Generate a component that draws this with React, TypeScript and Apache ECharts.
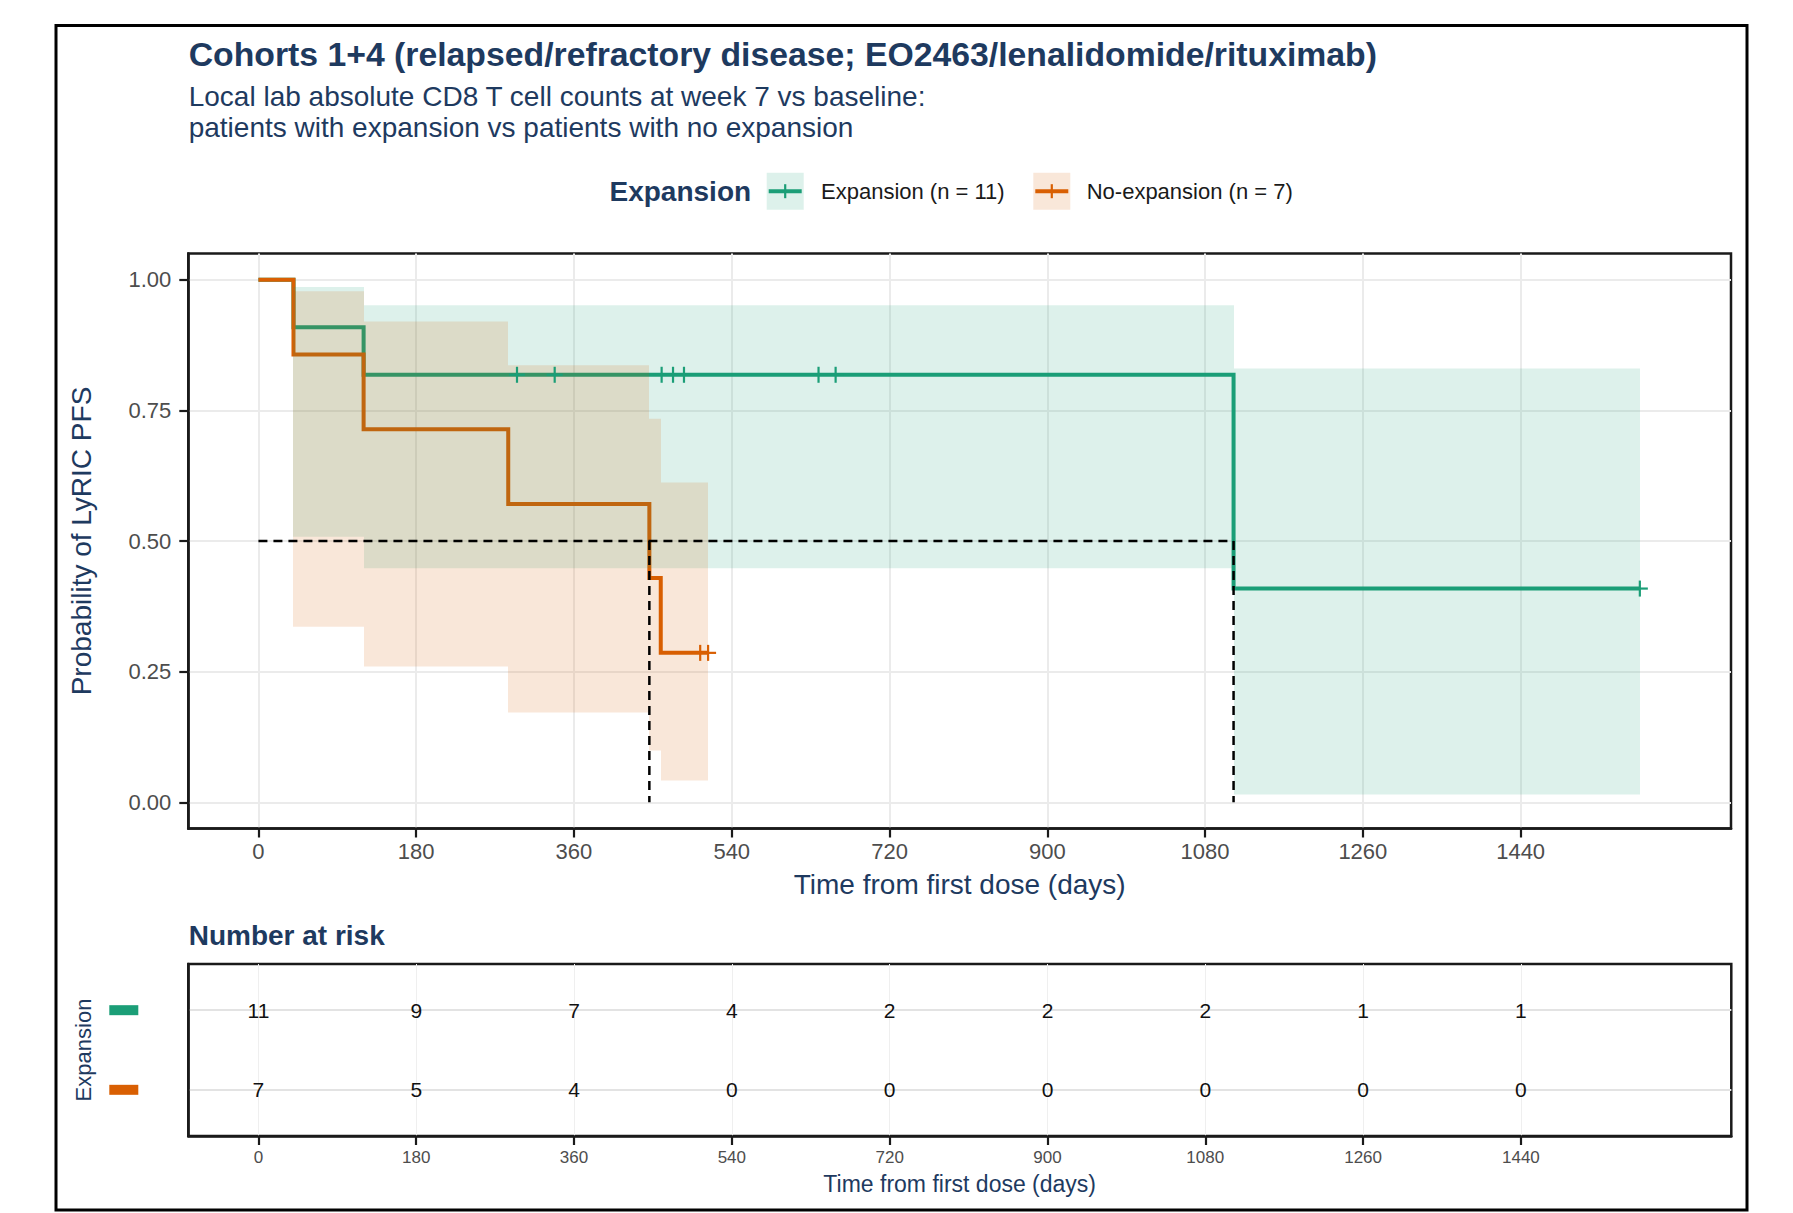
import React, { useEffect, useRef } from 'react';
import * as echarts from 'echarts';

// ---------- data ----------
const xTicks = [0, 180, 360, 540, 720, 900, 1080, 1260, 1440];
const yTicks = [0, 0.25, 0.5, 0.75, 1];

const groupNames = ['Expansion (n = 11)', 'No-expansion (n = 7)'];
const groupColors = ['#1B9E77', '#D95F02'];

// Kaplan-Meier step curves
const expTimes = [0, 40, 120, 1112.5, 1576];
const expSurv = [1, 0.909, 0.818, 0.409, 0.409];
const noExpTimes = [0, 40, 120, 285, 446, 459, 513];
const noExpSurv = [1, 0.857, 0.714, 0.571, 0.429, 0.286, 0.286];

// censor marks
const expCensorTimes = [295, 338, 460, 473, 485.5, 639, 658.5, 1576];
const expCensorSurv = [0.818, 0.818, 0.818, 0.818, 0.818, 0.818, 0.818, 0.409];
const noExpCensorTimes = [504, 513];
const noExpCensorSurv = [0.286, 0.286];

// confidence bands (step segments)
const expBandStart = [40, 120, 1112.5];
const expBandEnd = [120, 1112.5, 1576];
const expBandLower = [0.508, 0.448, 0.015];
const expBandUpper = [0.986, 0.951, 0.83];
const noExpBandStart = [40, 120, 285, 446, 459];
const noExpBandEnd = [120, 285, 446, 459, 513];
const noExpBandLower = [0.336, 0.26, 0.172, 0.099, 0.042];
const noExpBandUpper = [0.978, 0.92, 0.836, 0.734, 0.612];

// medians
const medianTimes = [446, 1112.5];
const medianLevel = 0.5;

// number at risk
const riskTimes = [0, 180, 360, 540, 720, 900, 1080, 1260, 1440];
const riskExp = [11, 9, 7, 4, 2, 2, 2, 1, 1];
const riskNoExp = [7, 5, 4, 0, 0, 0, 0, 0, 0];

// ---------- style ----------
const FONT = '"Liberation Sans", Arial, Helvetica, sans-serif';
const NAVY = '#1E3A5F';
const TICKCOL = '#4D4D4D';
const BAND_ALPHA = ['rgba(27,158,119,0.15)', 'rgba(217,95,2,0.15)'];

function txt(text: string, x: number, y: number, size: number, o: any = {}) {
  return {
    type: 'text',
    x,
    y,
    rotation: o.rotation || 0,
    z: 100,
    style: {
      text,
      fontSize: size,
      fontFamily: FONT,
      fontWeight: o.bold ? 'bold' : 'normal',
      fill: o.color || NAVY,
      align: o.align || 'left',
      verticalAlign: 'middle',
    },
  };
}

function legendKey(x: number, y: number, i: number) {
  return {
    type: 'group',
    x,
    y,
    z: 100,
    children: [
      { type: 'rect', shape: { x: 0, y: 0, width: 37, height: 37 }, style: { fill: BAND_ALPHA[i] } },
      { type: 'line', shape: { x1: 2, y1: 18.5, x2: 35, y2: 18.5 }, style: { stroke: groupColors[i], lineWidth: 4 } },
      { type: 'line', shape: { x1: 18.5, y1: 11.5, x2: 18.5, y2: 25.5 }, style: { stroke: groupColors[i], lineWidth: 2.2 } },
    ],
  };
}

const bandRender = (fill: string) => (params: any, api: any) => {
  const p0 = api.coord([api.value(0), api.value(3)]);
  const p1 = api.coord([api.value(1), api.value(2)]);
  const x0 = Math.round(p0[0]);
  const x1 = Math.round(p1[0]);
  return {
    type: 'rect',
    shape: { x: x0, y: p0[1], width: x1 - x0, height: p1[1] - p0[1] },
    style: { fill },
  };
};

const censorRender = (color: string) => (params: any, api: any) => {
  const p = api.coord([api.value(0), api.value(1)]);
  return {
    type: 'group',
    children: [
      { type: 'line', shape: { x1: p[0] - 8, y1: p[1], x2: p[0] + 8, y2: p[1] }, style: { stroke: color, lineWidth: 2.2 } },
      { type: 'line', shape: { x1: p[0], y1: p[1] - 8, x2: p[0], y2: p[1] + 8 }, style: { stroke: color, lineWidth: 2.2 } },
    ],
  };
};

const plain = (v: number) => String(v);

export default function App() {
  const ref = useRef<HTMLDivElement>(null);

  useEffect(() => {
    if (!ref.current) return;
    const chart = echarts.init(ref.current, null, { renderer: 'svg' });

    const medianSegs = [
      [0, medianLevel, medianTimes[1], medianLevel],
      ...medianTimes.map((t) => [t, medianLevel, t, 0]),
    ];

    const tickStyle = { color: '#1a1a1a', width: 2.2 };
    const lineOn = { show: true, onZero: false, lineStyle: { color: '#1a1a1a', width: 2.5 } };

    const option: any = {
      animation: false,
      backgroundColor: '#ffffff',
      grid: [
        {
          left: 188.3, top: 253.5, width: 1542.7, height: 575,
          show: true, borderColor: '#1a1a1a', borderWidth: 2.5, backgroundColor: 'transparent',
          containLabel: false, outerBoundsMode: 'none',
        },
        {
          left: 188.3, top: 964, width: 1543, height: 172,
          show: true, borderColor: '#1a1a1a', borderWidth: 2.5, backgroundColor: 'transparent',
          containLabel: false, outerBoundsMode: 'none',
        },
      ],
      xAxis: [
        {
          gridIndex: 0, type: 'value', min: -80, max: 1680, position: 'bottom',
          axisLine: lineOn,
          axisTick: { show: true, inside: false, customValues: xTicks, length: 9, lineStyle: tickStyle },
          axisLabel: { customValues: xTicks, fontSize: 22, color: TICKCOL, margin: 12, fontFamily: FONT, formatter: plain },
          splitLine: { show: true, lineStyle: { color: '#EBEBEB', width: 2 } },
        },
        {
          gridIndex: 1, type: 'value', min: -80, max: 1680, position: 'bottom',
          axisLine: lineOn,
          axisTick: { show: true, inside: false, customValues: riskTimes, length: 9, lineStyle: tickStyle },
          axisLabel: { customValues: riskTimes, fontSize: 17, color: TICKCOL, margin: 13, fontFamily: FONT, formatter: plain },
          splitLine: { show: true, lineStyle: { color: '#EFEFEF', width: 1 } },
        },
      ],
      yAxis: [
        {
          gridIndex: 0, type: 'value', min: -0.05, max: 1.05, position: 'left',
          axisLine: lineOn,
          axisTick: { show: true, inside: false, customValues: yTicks, length: 9, lineStyle: tickStyle },
          axisLabel: {
            customValues: yTicks, fontSize: 22, color: TICKCOL, margin: 17, fontFamily: FONT,
            formatter: (v: number) => v.toFixed(2),
          },
          splitLine: { show: true, lineStyle: { color: '#EBEBEB', width: 2 } },
        },
        {
          gridIndex: 1, type: 'value', min: 0.42, max: 2.58, inverse: true, position: 'left',
          axisLine: lineOn,
          axisTick: { show: false, customValues: [1, 2] },
          axisLabel: {
            customValues: [1, 2], margin: 50,
            formatter: (v: number) => (v === 1 ? '{a| }' : '{b| }'),
            rich: {
              a: { width: 29, height: 10, backgroundColor: groupColors[0] },
              b: { width: 29, height: 10, backgroundColor: groupColors[1] },
            },
          },
          splitLine: { show: true, lineStyle: { color: '#E3E3E3', width: 2 } },
        },
      ],
      series: [
        {
          name: groupNames[0], type: 'line', xAxisIndex: 0, yAxisIndex: 0, step: 'end', symbol: 'none', z: 2, silent: true,
          data: expTimes.map((t, i) => [t, expSurv[i]]),
          lineStyle: { color: groupColors[0], width: 4, cap: 'butt', join: 'miter' },
        },
        {
          name: groupNames[1], type: 'line', xAxisIndex: 0, yAxisIndex: 0, step: 'end', symbol: 'none', z: 3, silent: true,
          data: noExpTimes.map((t, i) => [t, noExpSurv[i]]),
          lineStyle: { color: groupColors[1], width: 4, cap: 'butt', join: 'miter' },
        },
        {
          type: 'custom', xAxisIndex: 0, yAxisIndex: 0, z: 4, silent: true,
          data: expBandStart.map((s, i) => [s, expBandEnd[i], expBandLower[i], expBandUpper[i]]),
          encode: { x: [0, 1], y: [2, 3] },
          renderItem: bandRender(BAND_ALPHA[0]),
        },
        {
          type: 'custom', xAxisIndex: 0, yAxisIndex: 0, z: 4, silent: true,
          data: noExpBandStart.map((s, i) => [s, noExpBandEnd[i], noExpBandLower[i], noExpBandUpper[i]]),
          encode: { x: [0, 1], y: [2, 3] },
          renderItem: bandRender(BAND_ALPHA[1]),
        },
        {
          type: 'custom', xAxisIndex: 0, yAxisIndex: 0, z: 5, silent: true,
          data: expCensorTimes.map((t, i) => [t, expCensorSurv[i]]),
          encode: { x: 0, y: 1 },
          renderItem: censorRender(groupColors[0]),
        },
        {
          type: 'custom', xAxisIndex: 0, yAxisIndex: 0, z: 5, silent: true,
          data: noExpCensorTimes.map((t, i) => [t, noExpCensorSurv[i]]),
          encode: { x: 0, y: 1 },
          renderItem: censorRender(groupColors[1]),
        },
        {
          type: 'custom', xAxisIndex: 0, yAxisIndex: 0, z: 6, silent: true,
          data: medianSegs,
          encode: { x: [0, 2], y: [1, 3] },
          renderItem: (params: any, api: any) => {
            const a = api.coord([api.value(0), api.value(1)]);
            const b = api.coord([api.value(2), api.value(3)]);
            return {
              type: 'line',
              shape: { x1: a[0], y1: a[1], x2: b[0], y2: b[1] },
              style: { stroke: '#000', lineWidth: 2.5, lineDash: [9, 6] },
            };
          },
        },
        {
          type: 'custom', xAxisIndex: 1, yAxisIndex: 1, z: 5, silent: true,
          data: [
            ...riskTimes.map((t, i) => [t, 1, riskExp[i]]),
            ...riskTimes.map((t, i) => [t, 2, riskNoExp[i]]),
          ],
          encode: { x: 0, y: 1 },
          renderItem: (params: any, api: any) => {
            const p = api.coord([api.value(0), api.value(1)]);
            return {
              type: 'text',
              x: p[0],
              y: p[1],
              style: {
                text: String(api.value(2)),
                fontSize: 21,
                fontFamily: FONT,
                fill: '#111',
                align: 'center',
                verticalAlign: 'middle',
              },
            };
          },
        },
      ],
      graphic: [
        { type: 'rect', z: 100, shape: { x: 56, y: 25.5, width: 1691, height: 1184.5 }, style: { fill: 'none', stroke: '#000', lineWidth: 3 } },
        txt('Cohorts 1+4 (relapsed/refractory disease; EO2463/lenalidomide/rituximab)', 188.7, 54, 33.75, { bold: true }),
        txt('Local lab absolute CD8 T cell counts at week 7 vs baseline:', 188.7, 96, 28),
        txt('patients with expansion vs patients with no expansion', 188.7, 127, 28),
        txt('Expansion', 609.5, 191, 28, { bold: true }),
        legendKey(766.7, 172.7, 0),
        txt(groupNames[0], 821, 191, 22, { color: '#1a1a1a' }),
        legendKey(1033.3, 172.7, 1),
        txt(groupNames[1], 1086.7, 191, 22, { color: '#1a1a1a' }),
        txt('Time from first dose (days)', 959.7, 884, 28, { align: 'center' }),
        txt('Probability of LyRIC PFS', 81, 541, 28, { align: 'center', rotation: Math.PI / 2 }),
        txt('Number at risk', 188.7, 935, 28, { bold: true }),
        txt('Time from first dose (days)', 959.7, 1183.5, 23, { align: 'center' }),
        txt('Expansion', 83, 1050, 22, { align: 'center', rotation: Math.PI / 2 }),
      ],
    };

    chart.setOption(option);
    return () => chart.dispose();
  }, []);

  return (
    <div
      ref={ref}
      style={{ position: 'absolute', left: 0, top: 0, width: 1793, height: 1213, background: '#fff' }}
    />
  );
}
